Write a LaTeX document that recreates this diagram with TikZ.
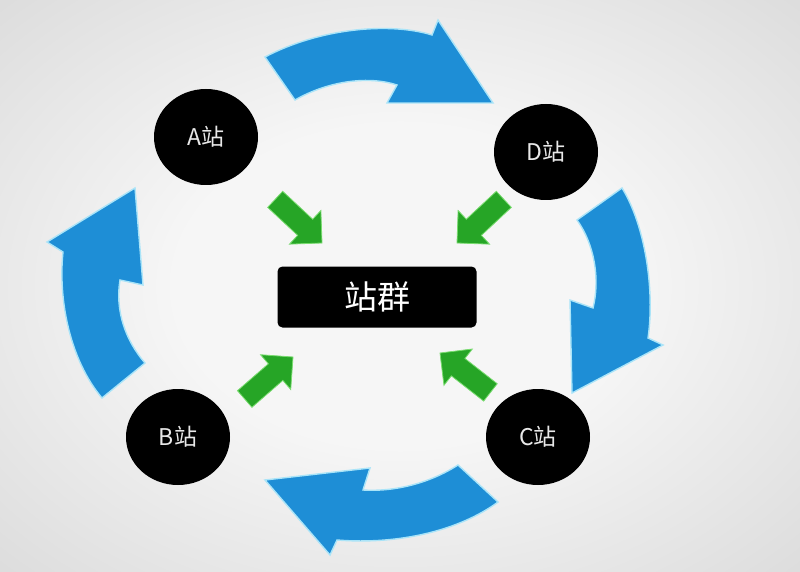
\documentclass[tikz,border=0pt]{standalone}
\usepackage{fontspec}
\newfontfamily\cjk{Noto Sans CJK SC}
\usetikzlibrary{shapes.geometric}
\definecolor{bluefill}{RGB}{30,142,214}
\definecolor{blueglow}{RGB}{170,228,248}
\definecolor{greenfill}{RGB}{38,165,38}
\definecolor{greenedge}{RGB}{120,220,110}
\definecolor{bgin}{RGB}{246,246,246}
\definecolor{bgout}{RGB}{208,208,208}
\definecolor{labelgray}{RGB}{232,232,232}
\pgfdeclareradialshading{bgshade}{\pgfpoint{0bp}{0bp}}{color(0bp)=(bgin); color(14bp)=(bgin); color(46bp)=(bgout); color(50bp)=(bgout)}
\begin{document}
\begin{tikzpicture}[x=1pt,y=-1pt,
  station/.style={ellipse, fill=black, minimum width=104pt, minimum height=96pt, inner sep=0pt,
    text=labelgray, font=\cjk\fontsize{23}{23}\selectfont},
  hubbox/.style={rectangle, rounded corners=5pt, fill=black, minimum width=199pt, minimum height=61pt,
    inner sep=0pt, text=white, font=\cjk\fontsize{33}{33}\selectfont},
  bluearrow/.style={fill=bluefill, draw=blueglow, line width=1.4pt, line join=miter},
  garrow/.pic={\fill[greenfill, draw=greenedge, line width=0.8pt, line join=miter]
     (0,0) -- (-23,23) -- (-23,11) -- (-64,11) -- (-64,-11) -- (-23,-11) -- (-23,-23) -- cycle;}
]
\useasboundingbox (0,0) rectangle (800,572);
\shade[shading=bgshade] (0,0) rectangle (800,572);

% blue circular arrows
\filldraw[bluearrow] (265,57) .. controls (320,28) and (390,22) .. (432,35) -- (438,20) -- (493,103)
  -- (387,103) -- (397,85) .. controls (370,76) and (330,80) .. (295,100) -- cycle;
\filldraw[bluearrow] (622,188) .. controls (645,225) and (655,290) .. (648,338) -- (663,345) -- (572,393)
  -- (570,300) -- (593,308) .. controls (600,280) and (595,245) .. (577,220) -- cycle;
\filldraw[bluearrow] (458,465) -- (498,502) .. controls (460,530) and (400,545) .. (337,540) -- (330,555)
  -- (265,480) -- (370,468) -- (363,490) .. controls (395,492) and (430,483) .. (458,465) -- cycle;
\filldraw[bluearrow] (145,363) -- (102,398) .. controls (70,360) and (58,300) .. (63,252) -- (47,242)
  -- (135,188) -- (143,285) -- (120,280) .. controls (115,310) and (125,340) .. (145,363) -- cycle;

% stations
\node[station] (A) at (206,137) {A站};
\node[station] (D) at (546,152) {D站};
\node[station] (B) at (178,437) {B站};
\node[station] (C) at (538,437) {C站};

% hub
\node[hubbox] (hub) at (377,297) {站群};

% green arrows
\pic[rotate=-43] at (322,243) {garrow};
\pic[rotate=-137] at (457,243) {garrow};
\pic[rotate=41] at (293,357) {garrow};
\pic[rotate=142] at (440,353) {garrow};
\end{tikzpicture}
\end{document}
